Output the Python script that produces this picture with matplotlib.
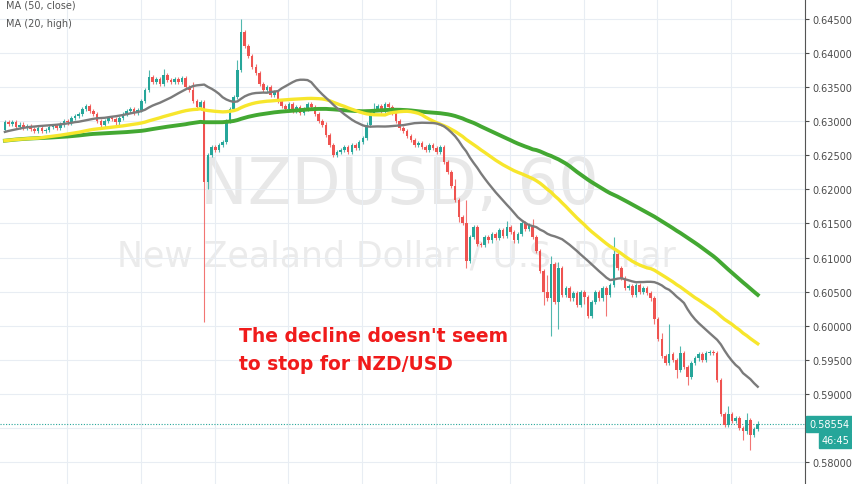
import matplotlib
matplotlib.use("Agg")
import matplotlib.pyplot as plt
import numpy as np
import pandas as pd

prehistory = [0.6250, 0.6254, 0.6252, 0.6257, 0.6255, 0.6260, 0.6258, 0.6262, 0.6259, 0.6264,
              0.6261, 0.6266, 0.6263, 0.6260, 0.6265, 0.6268, 0.6264, 0.6269, 0.6272, 0.6268,
              0.6273, 0.6270, 0.6275, 0.6272, 0.6277, 0.6274, 0.6279, 0.6276, 0.6281, 0.6278,
              0.6282, 0.6280, 0.6284, 0.6281, 0.6286, 0.6283, 0.6287, 0.6285, 0.6289, 0.6287]

closes = [0.6298, 0.6296, 0.6299, 0.6292, 0.6295, 0.6290, 0.6293,
          0.6288, 0.6286, 0.6290, 0.6285, 0.6287, 0.6291, 0.6293, 0.6290,
          0.6295, 0.6300, 0.6298, 0.6305, 0.6308, 0.6310,
          0.6318, 0.6322, 0.6315, 0.6310, 0.6300,
          0.6295, 0.6300, 0.6305, 0.6303, 0.6298, 0.6305, 0.6310, 0.6315, 0.6318, 0.6312, 0.6316,
          0.6330, 0.6345,
          0.6365, 0.6358, 0.6362, 0.6355, 0.6368, 0.6360, 0.6357, 0.6362, 0.6358, 0.6363, 0.6350, 0.6345,
          0.6330, 0.6320, 0.6328,
          0.6210,
          0.6250, 0.6262, 0.6258, 0.6265, 0.6270,
          0.6300, 0.6318, 0.6335,
          0.6375, 0.6430, 0.6410,
          0.6395, 0.6380, 0.6370, 0.6355,
          0.6345, 0.6350, 0.6338, 0.6342, 0.6330,
          0.6322, 0.6318, 0.6325,
          0.6315, 0.6320, 0.6312, 0.6318, 0.6325, 0.6320, 0.6310, 0.6300, 0.6295,
          0.6280, 0.6265, 0.6250, 0.6255,
          0.6258, 0.6262, 0.6255, 0.6265, 0.6260, 0.6270, 0.6275,
          0.6295, 0.6312,
          0.6318, 0.6322, 0.6315, 0.6325, 0.6320, 0.6312,
          0.6300, 0.6290, 0.6285, 0.6278, 0.6272,
          0.6265, 0.6268, 0.6262, 0.6258, 0.6265, 0.6260, 0.6255, 0.6262,
          0.6240, 0.6225, 0.6205,
          0.6185, 0.6160, 0.6150,
          0.6095, 0.6130,
          0.6145, 0.6120, 0.6118, 0.6130, 0.6125,
          0.6135, 0.6128, 0.6140, 0.6132, 0.6145, 0.6138, 0.6125, 0.6135, 0.6150, 0.6142, 0.6148,
          0.6130, 0.6110, 0.6080, 0.6050,
          0.6040, 0.6090, 0.6035, 0.6085,
          0.6045, 0.6055, 0.6040, 0.6048, 0.6030, 0.6050, 0.6042, 0.6015, 0.6035, 0.6050, 0.6040, 0.6055, 0.6045, 0.6060,
          0.6105, 0.6085,
          0.6070, 0.6055, 0.6058, 0.6045, 0.6060, 0.6050, 0.6055, 0.6048,
          0.6040, 0.6010, 0.5980, 0.5955,
          0.5945, 0.5958, 0.5950, 0.5935, 0.5960, 0.5940, 0.5925,
          0.5945, 0.5952, 0.5958, 0.5950, 0.5960, 0.5962, 0.5960,
          0.5920, 0.5870,
          0.5855, 0.5870, 0.5860, 0.5865, 0.5850, 0.5845, 0.5862, 0.5840, 0.5848, 0.58554]

# wick lengths in pips (index: extra)
upper_wick_special = {39: 10, 43: 8, 51: 12, 63: 15, 64: 20, 100: 8, 122: 10, 125: 35,
                      136: 8, 143: 8, 147: 25, 148: 12, 150: 8, 165: 25, 178: 10, 180: 45,
                      183: 10, 196: 12, 201: 10, 204: 5}
lower_wick_special = {54: 204, 55: 10, 123: 8, 125: 10, 146: 20, 148: 55, 150: 40, 157: 10,
                      163: 30, 176: 8, 182: 12, 185: 12, 200: 12, 202: 22}
default_wick = 3
current_price = 0.58554

n = len(closes)
opens = [prehistory[-1]] + closes[:-1]
highs, lows = [], []
for i in range(n):
    hi = max(opens[i], closes[i]) + upper_wick_special.get(i, default_wick) * 1e-4
    lo = min(opens[i], closes[i]) - lower_wick_special.get(i, default_wick) * 1e-4
    highs.append(hi)
    lows.append(lo)

full_close = pd.Series(prehistory + closes)
full_high = pd.Series([p + 3e-4 for p in prehistory] + highs)
k = len(prehistory)
ma50 = full_close.rolling(50, min_periods=1).mean().values[k:]
ma20h = full_high.rolling(20, min_periods=1).mean().values[k:]
ma_long = full_close.rolling(90, min_periods=1).mean().values[k:]

fig = plt.figure(figsize=(8.52, 4.85), dpi=100)
ax = fig.add_axes([0, 0, 805 / 852, 1])
up_c, dn_c = "#26a69a", "#ef5350"
x = np.arange(n)
for i in range(n):
    c = up_c if closes[i] >= opens[i] else dn_c
    ax.vlines(i, lows[i], highs[i], color=c, lw=0.8, alpha=0.8, zorder=3)
    b0, b1 = sorted([opens[i], closes[i]])
    ax.bar(i, max(b1 - b0, 0.00004), bottom=b0, width=0.7, color=c, zorder=4, linewidth=0)

ax.plot(x, ma_long, color="#43a832", lw=2.8, zorder=5)
ax.plot(x, ma50, color="#f7e62c", lw=2.4, zorder=6)
ax.plot(x, ma20h, color="#7b7b7b", lw=1.7, zorder=7)

ax.set_xlim(-1.33, 213.3)
ax.set_ylim(0.5768, 0.6479)
ax.set_xticks([16.8 + 20 * j for j in range(11)])
ax.tick_params(axis="x", length=0, labelbottom=False)
ax.yaxis.tick_right()
ax.set_yticks(np.arange(0.580, 0.6451, 0.005))
ax.set_yticklabels([f"{v:.5f}" for v in np.arange(0.580, 0.6451, 0.005)])
ax.tick_params(axis="y", labelsize=7, colors="#4a4a4a", length=3, pad=2, direction="out")
ax.grid(True, color="#e8edf3", lw=0.8, zorder=0)
for s in ["top", "left", "bottom"]:
    ax.spines[s].set_visible(False)
ax.spines["right"].set_color("#555555")

ax.text(107, 0.6207, "NZDUSD, 60", fontsize=46, color="#e8e8e8", ha="center", va="center", zorder=1)
ax.text(106, 0.6103, "New Zealand Dollar / U.S. Dollar", fontsize=25, color="#ebebeb", ha="center", va="center", zorder=1)

ax.text(63.5, 0.5965, "The decline doesn't seem\nto stop for NZD/USD", fontsize=13.5, fontweight="bold",
        color="#f01b1b", ha="left", va="center", linespacing=1.6, zorder=9)

ax.text(0.008, 0.998, "MA (50, close)", transform=ax.transAxes, fontsize=7, color="#555555", va="top")
ax.text(0.008, 0.960, "MA (20, high)", transform=ax.transAxes, fontsize=7, color="#555555", va="top")

ax.axhline(current_price, color=up_c, lw=0.8, ls=(0, (1, 1.5)), zorder=2)
ax.text(1.005, current_price, f"{current_price:.5f}", transform=ax.get_yaxis_transform(), fontsize=7,
        color="white", va="center", ha="left",
        bbox=dict(boxstyle="square,pad=0.3", fc=up_c, ec=up_c), zorder=10, clip_on=False)
ax.text(1.02, current_price - 0.0023, "46:45", transform=ax.get_yaxis_transform(), fontsize=7,
        color="white", va="center", ha="left",
        bbox=dict(boxstyle="square,pad=0.25", fc=up_c, ec=up_c), zorder=10, clip_on=False)

fig.savefig("out.png", dpi=100)
